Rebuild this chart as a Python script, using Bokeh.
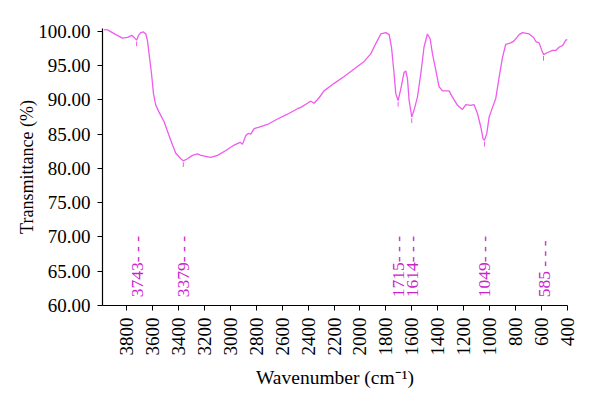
import math
from bokeh.plotting import figure
from bokeh.models import Range1d, FixedTicker, PrintfTickFormatter
from bokeh.core.properties import value
from bokeh.embed import file_html
from bokeh.resources import INLINE

# FTIR spectrum (wavenumber cm^-1, transmittance %)
wavenumber = [3973, 3946, 3882, 3831, 3792, 3759, 3741, 3722, 3707, 3690,
              3669, 3651, 3638, 3626, 3607, 3592, 3574, 3549, 3510, 3472,
              3445, 3420, 3381, 3362, 3330, 3291, 3253, 3227, 3150, 3098,
              3034, 2970, 2924, 2906, 2880, 2862, 2842, 2816, 2778, 2713,
              2636, 2559, 2482, 2456, 2405, 2379, 2354, 2315, 2277, 2199,
              2122, 2045, 1968, 1917, 1878, 1839, 1801, 1775, 1757, 1737,
              1724, 1706, 1685, 1660, 1647, 1634, 1621, 1601, 1583, 1557,
              1531, 1506, 1480, 1459, 1441, 1415, 1390, 1364, 1313, 1287,
              1248, 1210, 1184, 1146, 1120, 1094, 1068, 1051, 1040, 1022,
              1004, 978, 953, 927, 901, 876, 837, 812, 773, 747,
              696, 662, 644, 619, 598, 585, 554, 515, 490, 464,
              438, 413, 400]
transmittance = [100.25, 100.2, 99.5, 99.0, 99.1, 99.4, 99.1, 98.7, 99.4, 99.8,
                 99.9, 99.6, 98.6, 96.7, 93.8, 90.9, 89.2, 88.2, 86.8, 84.8,
                 83.4, 82.2, 81.4, 81.1, 81.4, 81.9, 82.1, 81.9, 81.6, 81.9,
                 82.6, 83.4, 83.8, 83.5, 84.8, 85.1, 85.0, 85.8, 86.0, 86.4,
                 87.2, 87.9, 88.7, 88.9, 89.5, 89.8, 89.5, 90.3, 91.3, 92.4,
                 93.4, 94.5, 95.6, 96.7, 98.2, 99.6, 99.8, 99.5, 97.7, 93.8,
                 90.9, 89.9, 91.6, 94.0, 94.2, 93.1, 89.9, 87.5, 88.5, 90.4,
                 93.8, 97.7, 99.6, 98.9, 96.7, 94.3, 91.9, 91.3, 91.3, 90.4,
                 89.2, 88.6, 89.3, 89.2, 89.3, 88.0, 86.0, 84.3, 84.1, 85.1,
                 87.5, 88.9, 90.2, 93.3, 96.2, 98.1, 98.3, 98.6, 99.5, 99.8,
                 99.6, 99.1, 98.5, 98.3, 97.2, 96.6, 96.9, 97.2, 97.2, 97.7,
                 97.9, 98.7, 98.8]

# Marked peaks
peak_labels = ["3743", "3379", "1715", "1614", "1049", "585"]
peak_x = [3722, 3362, 1706, 1601, 1040, 585]
peak_t = [98.7, 81.1, 89.9, 87.5, 84.1, 96.6]
peak_texts = ["3743- - -", "3379- - -", "1715- - -", "1614- - -", "1049- - -", "585 - - -"]

x_ticks = list(range(400, 3801, 200))
y_ticks = [60, 65, 70, 75, 80, 85, 90, 95, 100]

LINE = "#ee5cee"
TXT = "#cc22cc"
FONT = "Liberation Serif"

p = figure(width=600, height=408, output_backend="svg", toolbar_location=None,
           x_range=Range1d(3985, 400), y_range=Range1d(60, 100.4),
           min_border_left=102, min_border_right=33, min_border_top=28,
           min_border_bottom=103)

p.line(wavenumber, transmittance, line_color=LINE, line_width=1.3)
p.segment(x0=peak_x, y0=[t - 0.2 for t in peak_t],
          x1=peak_x, y1=[t - 0.9 for t in peak_t],
          line_color=LINE, line_width=1)
p.text(x=peak_x, y=[61.2] * len(peak_x), text=peak_texts, angle=math.pi / 2,
       text_align="left", text_baseline="middle",
       text_font=value(FONT), text_font_size="17.5px", text_color=TXT)

p.grid.visible = False
p.outline_line_color = None

p.xaxis.ticker = FixedTicker(ticks=x_ticks)
p.yaxis.ticker = FixedTicker(ticks=y_ticks)
p.yaxis.formatter = PrintfTickFormatter(format="%.2f")
p.xaxis.major_label_orientation = math.pi / 2
p.xaxis.axis_label = "Wavenumber (cm\u207b\u00b9)"
p.yaxis.axis_label = "Transmittance (%)"

for ax in p.axis:
    ax.axis_line_color = "black"
    ax.axis_line_width = 1.2
    ax.major_tick_line_color = "black"
    ax.major_tick_in = 0
    ax.major_tick_out = 5
    ax.minor_tick_line_color = None
    ax.major_label_text_font = FONT
    ax.major_label_text_font_size = "19px"
    ax.major_label_text_color = "black"
    ax.major_label_standoff = 7
    ax.axis_label_text_font = FONT
    ax.axis_label_text_font_style = "normal"
    ax.axis_label_text_color = "black"

p.xaxis.axis_label_text_font_size = "19.5px"
p.yaxis.axis_label_text_font_size = "18px"
p.xaxis.axis_label_standoff = 8
p.yaxis.axis_label_standoff = -2

open("out.html", "w").write(file_html(p, INLINE))
